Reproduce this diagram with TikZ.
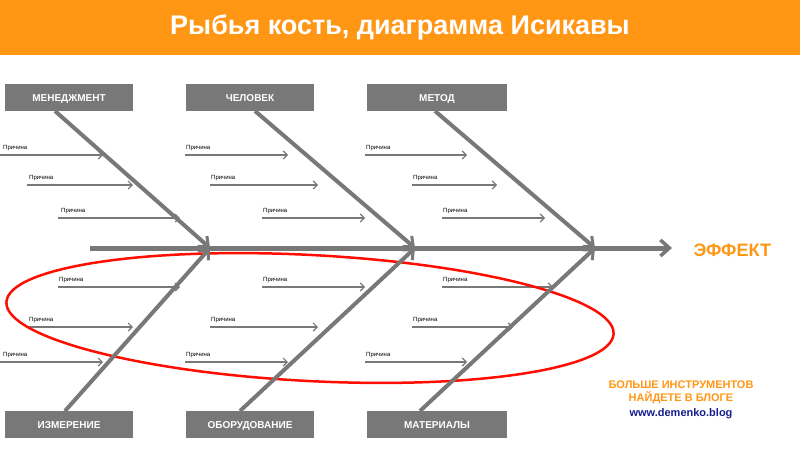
\documentclass[tikz,border=0pt]{standalone}
\usepackage{fontspec}
\setmainfont{Liberation Sans}
\usetikzlibrary{arrows.meta}
\definecolor{org}{RGB}{255,150,20}
\definecolor{gr}{RGB}{120,120,120}
\definecolor{blu}{RGB}{20,30,140}
\begin{document}
\begin{tikzpicture}[x=1pt,y=-1pt,
 cat/.style={fill=gr,text=white,font=\bfseries\fontsize{10}{11}\selectfont,minimum width=128pt,minimum height=27pt,inner sep=0pt,text height=7pt,text depth=0pt},
 bone/.style={gr,line width=4pt,-{Straight Barb[length=8pt,width=14pt,line width=3pt]}},
 cause/.style={gr,line width=1.5pt,-{Straight Barb[length=4pt,width=8pt,line width=1.2pt]}},
 lab/.style={font=\fontsize{6}{7}\selectfont,anchor=south west,inner sep=1pt}]
\useasboundingbox (0,0) rectangle (800,455);
\fill[org] (0,0) rectangle (800,55);
\node[text=white,font=\bfseries\fontsize{27}{30}\selectfont] (title) at (400,27) {Рыбья кость, диаграмма Исикавы};
% boxes
\node[cat] (m1) at (69,97.5) {МЕНЕДЖМЕНТ};
\node[cat] (m2) at (250,97.5) {ЧЕЛОВЕК};
\node[cat,minimum width=140pt] (m3) at (437,97.5) {МЕТОД};
\node[cat] (b1) at (69,424.5) {ИЗМЕРЕНИЕ};
\node[cat] (b2) at (250,424.5) {ОБОРУДОВАНИЕ};
\node[cat,minimum width=140pt] (b3) at (437,424.5) {МАТЕРИАЛЫ};
% spine
\coordinate (s0) at (90,248);
\coordinate (s1) at (210,248);
\coordinate (s2) at (415,248);
\coordinate (s3) at (595,248);
\coordinate (s4) at (672,248);
\node[text=org,font=\bfseries\fontsize{18}{20}\selectfont,anchor=west] (eff) at (690,250) {ЭФФЕКТ};
% causes
\foreach \y/\xa/\xb/\lx [count=\i] in {
 155/0/103/2, 185/27/133/28, 218/58/180/60,
 155/185/288/185, 185/210/318/210, 218/262/365/262,
 155/365/467/365, 185/412/497/412, 218/442/545/442,
 287/58/180/58, 287/262/365/262, 287/442/553/442,
 327/28/133/28, 327/210/318/210, 327/412/513/412,
 362/0/103/2, 362/185/288/185, 362/365/467/365}{
 \coordinate (ca\i) at (\xa,\y);
 \coordinate (cb\i) at (\xb,\y);
 \draw[cause] (ca\i) -- (cb\i);
 \node[lab] (l\i) at (\lx,\y-3) {Причина};
}
% red ellipse
\draw[red!90!orange,line width=2.5pt,rotate around={-3:(310,318)}] (310,318) ellipse [x radius=304pt,y radius=63pt];
\draw[gr,line width=5pt,-{Straight Barb[length=9pt,width=16pt,line width=3.5pt]}] (s0) -- (s4);
\draw[bone] (55,111) -- (s1);
\draw[bone] (255,111) -- (s2);
\draw[bone] (435,111) -- (s3);
\draw[bone] (65,411) -- (s1);
\draw[bone] (240,411) -- (s2);
\draw[bone] (420,411) -- (s3);
\node[font=\bfseries\fontsize{11}{13}\selectfont,text=org,align=center] (blog) at (681,392) {БОЛЬШЕ ИНСТРУМЕНТОВ\\НАЙДЕТЕ В БЛОГЕ};
\node[font=\bfseries\fontsize{11}{13}\selectfont,text=blu,anchor=north,inner sep=1pt] (url) at (blog.south) {www.demenko.blog};
\end{tikzpicture}
\end{document}
